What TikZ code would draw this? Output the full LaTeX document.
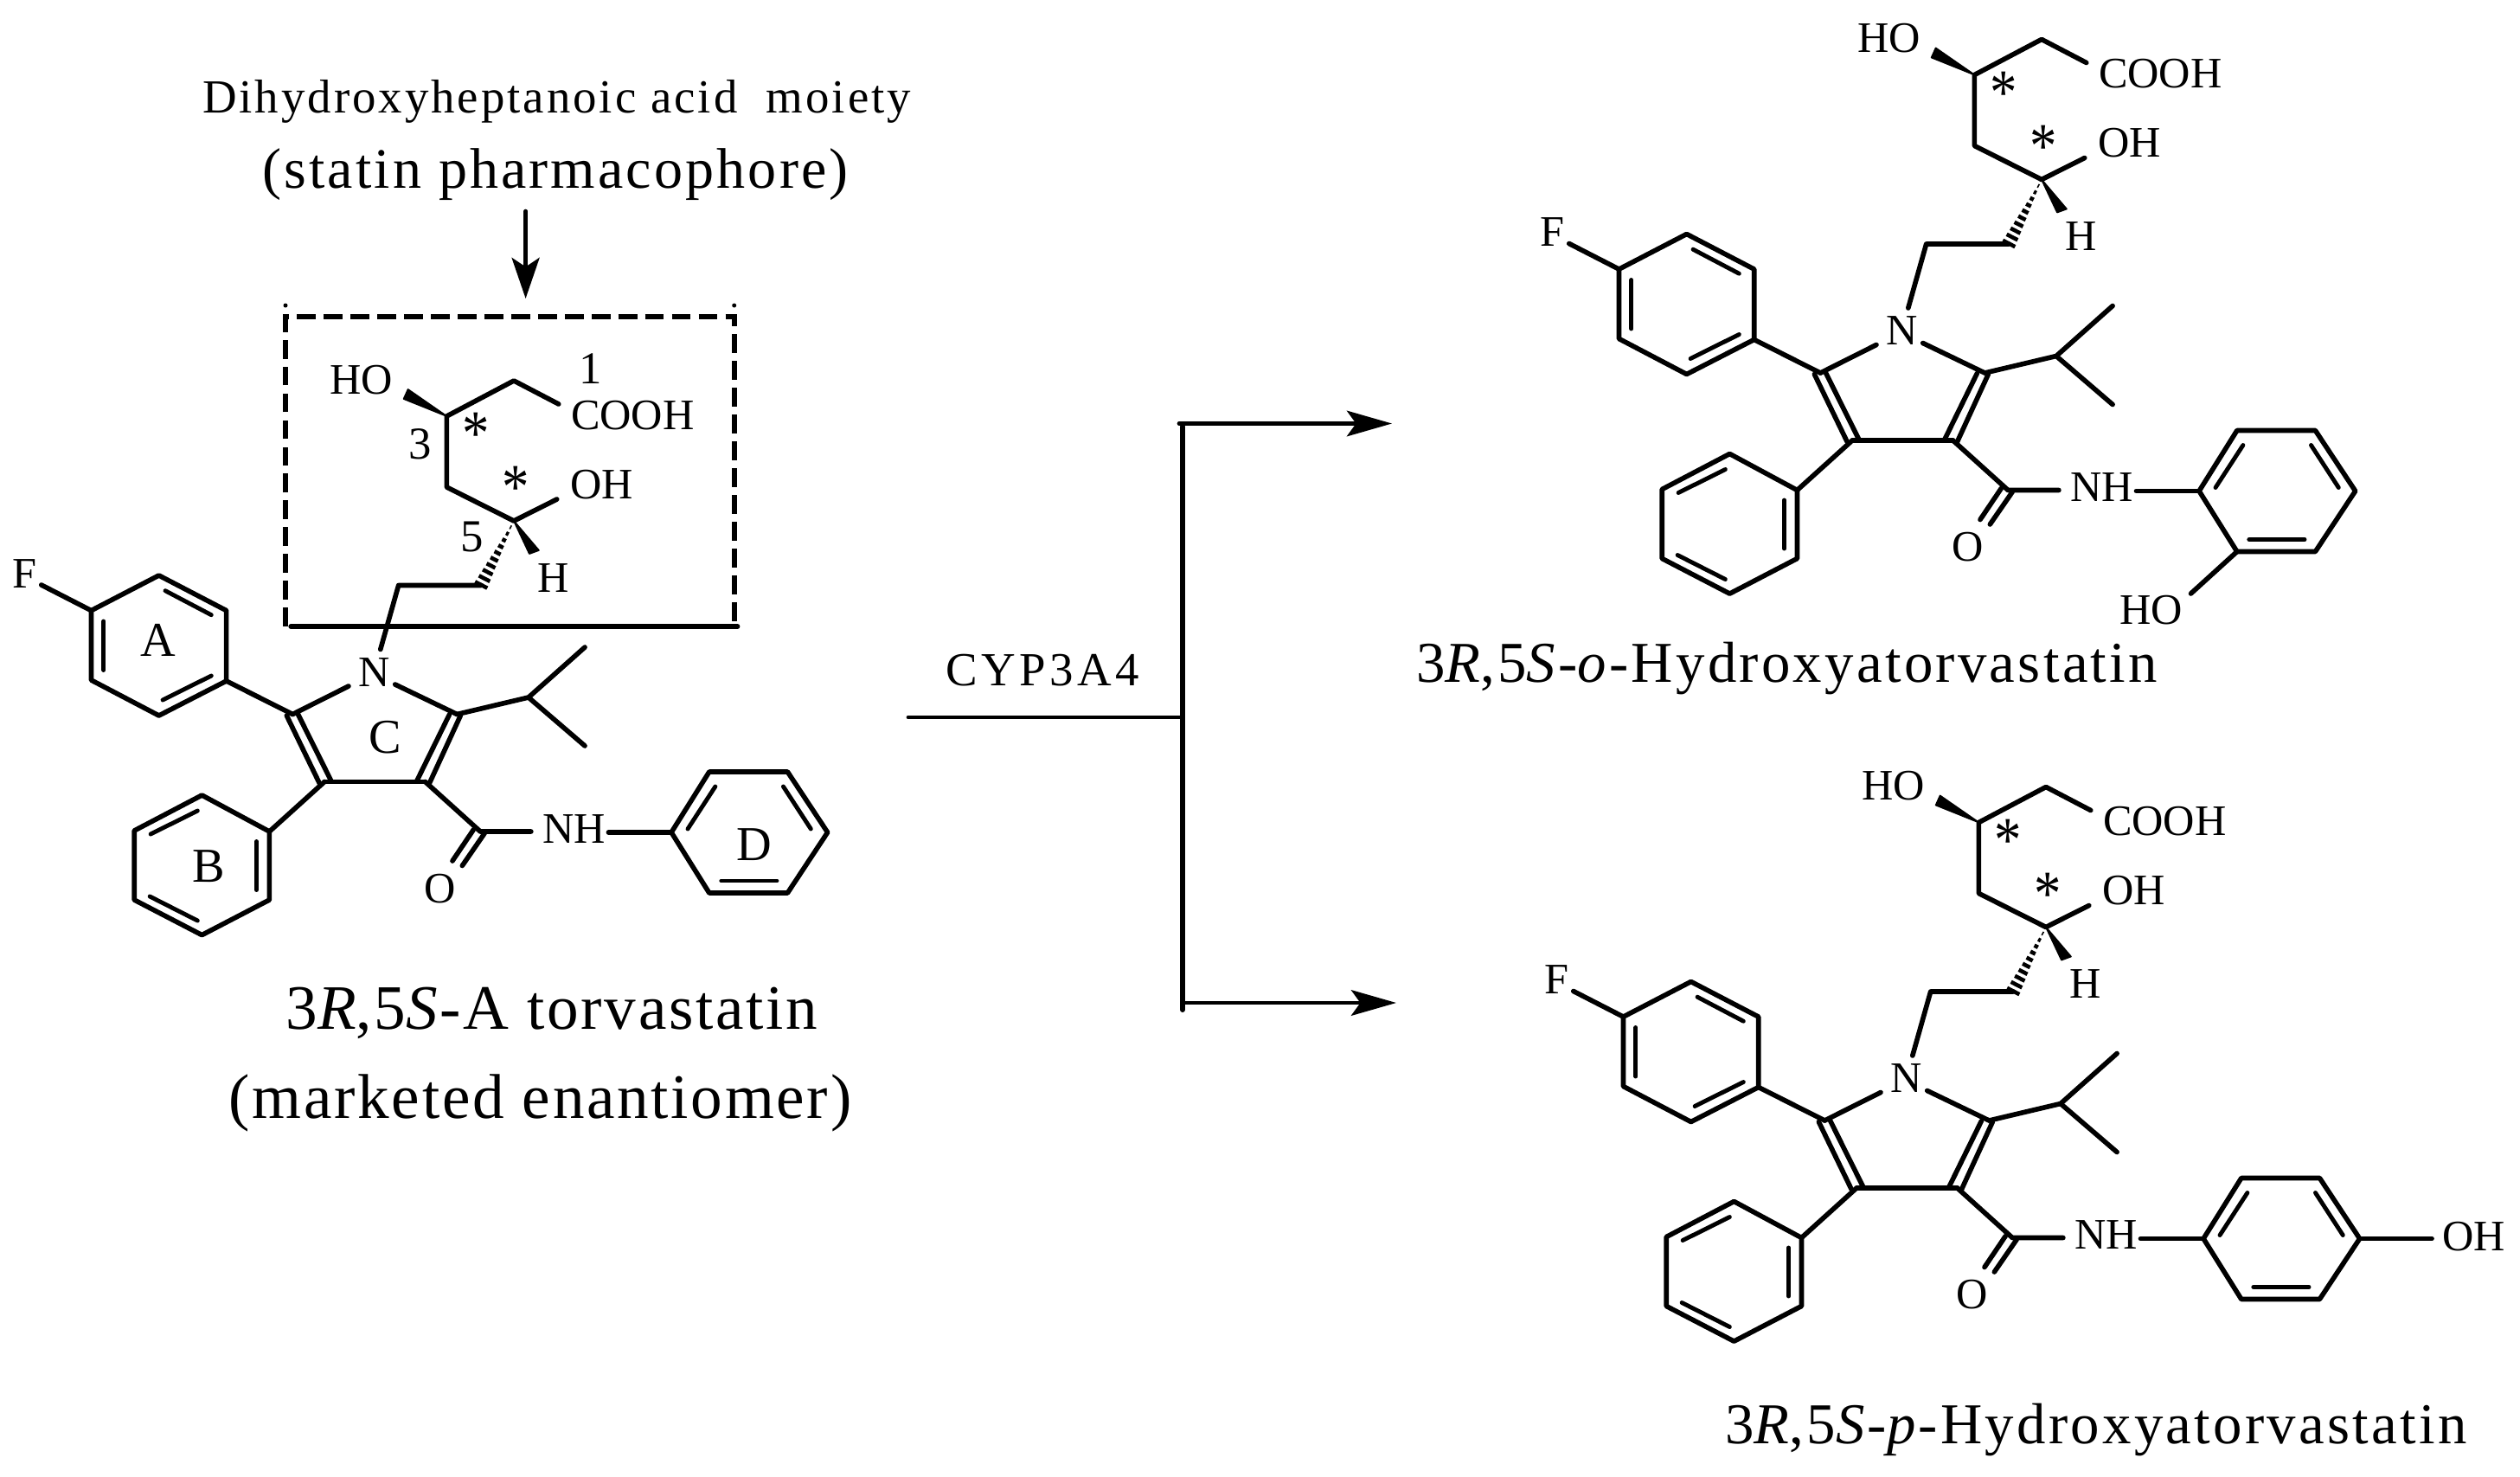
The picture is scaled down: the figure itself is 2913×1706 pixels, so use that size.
\documentclass[tikz,border=0pt]{standalone}
\usepackage{fontspec}
\setmainfont{Liberation Serif}
\newfontfamily\fsA[LetterSpace=4.7]{Liberation Serif}
\newfontfamily\fsB[LetterSpace=5.4]{Liberation Serif}
\newfontfamily\fsC[LetterSpace=8]{Liberation Serif}
\newfontfamily\fsD[LetterSpace=3.7]{Liberation Serif}
\newfontfamily\fsE[LetterSpace=4.9]{Liberation Serif}
\usetikzlibrary{arrows.meta}
\tikzset{
  bond/.style={line width=1.6pt,line cap=round,line join=round},
  inner/.style={line width=1.4pt,line cap=round},
  wedge/.style={fill=black,draw=black,line width=0.5pt,line join=round},
  atom/.style={inner sep=0pt,font=\fontsize{14.3}{16}\selectfont},
  ring/.style={inner sep=0pt,font=\fontsize{16}{18}\selectfont},
  num/.style={inner sep=0pt,font=\fontsize{15}{18}\selectfont},
  ast/.style={inner sep=0pt,font=\fontsize{21}{24}\selectfont,yshift=-2.2pt},
  cap1/.style={inner sep=0pt,anchor=base,font=\fsB\fontsize{15.6}{18}\selectfont},
  cap2/.style={inner sep=0pt,anchor=base,font=\fsA\fontsize{18.8}{22}\selectfont},
  cap3/.style={inner sep=0pt,anchor=base,font=\fsD\fontsize{20.8}{24}\selectfont},
  cap4/.style={inner sep=0pt,anchor=base,font=\fsE\fontsize{19}{24}\selectfont},
  cyp/.style={inner sep=0pt,anchor=base,font=\fsC\fontsize{15.6}{18}\selectfont},
  flow/.style={line width=1.35pt,line cap=round},
  flowthick/.style={line width=1.7pt,line cap=round},
  tip/.style={-{Stealth[length=14.8pt,width=8.4pt,inset=3pt]}}
}
\newcommand{\statin}[2]{%
\begin{scope}[shift={#2},xscale=0.995]
 % side chain
 \coordinate (#1c1) at (649,467);
 \coordinate (#1c2) at (597,440);
 \coordinate (#1c3) at (519,481);
 \coordinate (#1c4) at (519,563);
 \coordinate (#1c5) at (597,602);
 \coordinate (#1oh) at (647,577);
 \coordinate (#1c6) at (559,676.5);
 \coordinate (#1c7) at (463,676.5);
 \coordinate (#1ne) at (442,750.5);
 \draw[bond] (#1c1)--(#1c2)--(#1c3)--(#1c4)--(#1c5)--(#1oh);
 \draw[bond] (#1c6)--(#1c7)--(#1ne);
 \fill[wedge] (#1c3) -- (474,450) -- (469,461) -- cycle;
 \fill[wedge] (#1c5) -- (626,636) -- (615,640) -- cycle;
 \foreach \t in {0.1,0.2,...,1.0}{
   \draw[line width=1.3pt] ({597-38*\t-0.89*8*\t},{602+74*\t-0.457*8*\t}) -- ({597-38*\t+0.89*8*\t},{602+74*\t+0.457*8*\t});
 }
 \node[atom] (#1HO) at (420,439) {HO};
 \node[atom] (#1COOH) at (735,480) {COOH};
 \node[atom] (#1OH) at (699,560) {OH};
 \node[atom] (#1H) at (643,668) {H};
 \node[ast] (#1s1) at (552.5,494) {\scalebox{0.85}[1]{*}};
 \node[ast] (#1s2) at (599,556) {\scalebox{0.85}[1]{*}};
 % pyrrole
 \node[atom] (#1N) at (435,777) {N};
 \coordinate (#1al) at (340,825.5);
 \coordinate (#1ar) at (531,825.5);
 \coordinate (#1bl) at (377,903.5);
 \coordinate (#1br) at (494,903.5);
 \coordinate (#1nl) at (405,793);
 \coordinate (#1nr) at (459,791);
 \draw[bond] (#1nl)--(#1al);
 \draw[bond] (#1nr)--(#1ar);
 \draw[bond] (#1bl)--(#1br);
 \draw[bond] (333,827)--(371,905);
 \draw[bond] (346,825)--(385,903);
 \draw[bond] (522,826)--(484,903);
 \draw[bond] (535,827)--(499,905);
 % isopropyl
 \coordinate (#1ip) at (614,806);
 \coordinate (#1m1) at (679.5,748);
 \coordinate (#1m2) at (679.5,862);
 \draw[bond] (#1ar)--(#1ip)--(#1m1);
 \draw[bond] (#1ip)--(#1m2);
 % ring A
 \coordinate (#1a1) at (263,787);
 \coordinate (#1a2) at (263,705.6);
 \coordinate (#1a3) at (184.6,665);
 \coordinate (#1a4) at (106,705.6);
 \coordinate (#1a5) at (106,786);
 \coordinate (#1a6) at (184.6,827);
 \coordinate (#1fe) at (48,676);
 \draw[bond] (#1a1)--(#1a2)--(#1a3)--(#1a4)--(#1a5)--(#1a6)--cycle;
 \draw[bond] (#1al)--(#1a1);
 \draw[bond] (#1a4)--(#1fe);
 \draw[inner] (192,682.7)--(245.5,710.7);
 \draw[inner] (120.5,718)--(120.5,774.5);
 \draw[inner] (189,809)--(245.5,781);
 \node[atom] (#1F) at (29,663) {F};
 % ring B
 \coordinate (#1b1) at (313,961);
 \coordinate (#1b2) at (234.6,919);
 \coordinate (#1b3) at (156,960);
 \coordinate (#1b4) at (156,1040);
 \coordinate (#1b5) at (234.6,1080.6);
 \coordinate (#1b6) at (313,1040);
 \draw[bond] (#1b1)--(#1b2)--(#1b3)--(#1b4)--(#1b5)--(#1b6)--cycle;
 \draw[bond] (#1bl)--(#1b1);
 \draw[inner] (175,964)--(229.5,937);
 \draw[inner] (298,972.5)--(298,1028.5);
 \draw[inner] (174,1036)--(229.5,1064);
 % amide
 \coordinate (#1cm) at (558,961);
 \coordinate (#1ce) at (617,961);
 \draw[bond] (#1br)--(#1cm)--(#1ce);
 \draw[bond] (550,959)--(525.6,995);
 \draw[bond] (563,963)--(537,1000.5);
 \node[atom] (#1O) at (511.5,1027) {O};
 \node[atom] (#1NH) at (667,958) {NH};
 % ring D
 \coordinate (#1d1) at (780,962);
 \coordinate (#1d2) at (824,892);
 \coordinate (#1d3) at (915,892);
 \coordinate (#1d4) at (961.5,962);
 \coordinate (#1d5) at (915,1032);
 \coordinate (#1d6) at (824,1032);
 \coordinate (#1ns) at (707,962);
 \draw[bond] (#1d1)--(#1d2)--(#1d3)--(#1d4)--(#1d5)--(#1d6)--cycle;
 \draw[bond] (#1ns)--(#1d1);
 \draw[inner] (799,958)--(831,909);
 \draw[inner] (910,909)--(942,958);
 \draw[inner] (838,1018)--(902.5,1018);
\end{scope}}
\begin{document}
\begin{tikzpicture}[x=0.01cm,y=-0.01cm]
\useasboundingbox (0,0) rectangle (2913,1706);
\fill[white] (0,0) rectangle (2913,1706);
% molecules
\statin{p}{(0,0)}
\statin{q}{(1766,-394.5)}
\statin{r}{(1771,469.5)}
% extras, first molecule
\node[num] (l1) at (682.5,426.5) {1};
\node[num] (l3) at (486,513) {3};
\node[num] (l5) at (546,620) {5};
\node[ring] (rA) at (183,740) {A};
\node[ring] (rB) at (241,1001.5) {B};
\node[ring] (rC) at (445,852) {C};
\node[ring] (rD) at (872,976) {D};
% second product OH
\coordinate (qhoe) at (2532.5,686);
\draw[bond] (qd6)--(qhoe);
\node[atom] (qHOb) at (2486.6,705) {HO};
% third product OH
\coordinate (rohe) at (2811,1431.5);
\draw[bond] (rd4)--(rohe);
\node[atom] (rOHb) at (2859.5,1429) {OH};
% dashed box
\coordinate (bbl) at (330,724);
\coordinate (btl) at (330,366);
\coordinate (btr) at (849,366);
\coordinate (bbr) at (849,724);
\coordinate (bbs) at (336,724);
\coordinate (bbe) at (852.7,724);
\draw[line width=1.5pt,dash pattern=on 6.2pt off 2.6pt] (bbl)--(btl)--(btr)--(bbr);
\draw[line width=1.5pt,line cap=round] (bbs)--(bbe);
\fill (330,353) circle (2.5);
\fill (848.7,353) circle (2.5);
% captions
\node[cap1] (t1) at (643.5,130) {Dihydroxyheptanoic acid\ \ moiety};
\node[cap2] (t2) at (642,218) {(statin pharmacophore)};
\node[cap3] (t3) at (638,1189) {3\textit{R},5\textit{S}-A torvastatin};
\node[cap3] (t4) at (624.5,1292) {(marketed enantiomer)};
\node[cap4] (t5) at (2065.6,788) {3\textit{R},5\textit{S}-\textit{o}-Hydroxyatorvastatin};
\node[cap4] (t6) at (2423,1668) {3\textit{R},5\textit{S}-\textit{p}-Hydroxyatorvastatin};
\node[cyp] (t7) at (1205,792) {CYP3A4};
% arrows
\coordinate (a0s) at (607.6,244);
\coordinate (a0e) at (607.6,345);
\draw[line width=1.3pt,line cap=round,-{Stealth[length=13.4pt,width=9.1pt,inset=3pt]}] (a0s)--(a0e);
\coordinate (rs) at (1050,829);
\coordinate (rj) at (1367,829);
\coordinate (rt) at (1367,493);
\coordinate (rb) at (1367,1167);
\coordinate (u0) at (1363,489.5);
\coordinate (u1) at (1609,489.5);
\coordinate (v0) at (1367,1159);
\coordinate (v1) at (1614,1159);
\draw[flow] (rs)--(rj);
\draw[flowthick] (rt)--(rb);
\draw[flow,tip] (u0)--(u1);
\draw[flow,tip] (v0)--(v1);
\end{tikzpicture}
\end{document}
